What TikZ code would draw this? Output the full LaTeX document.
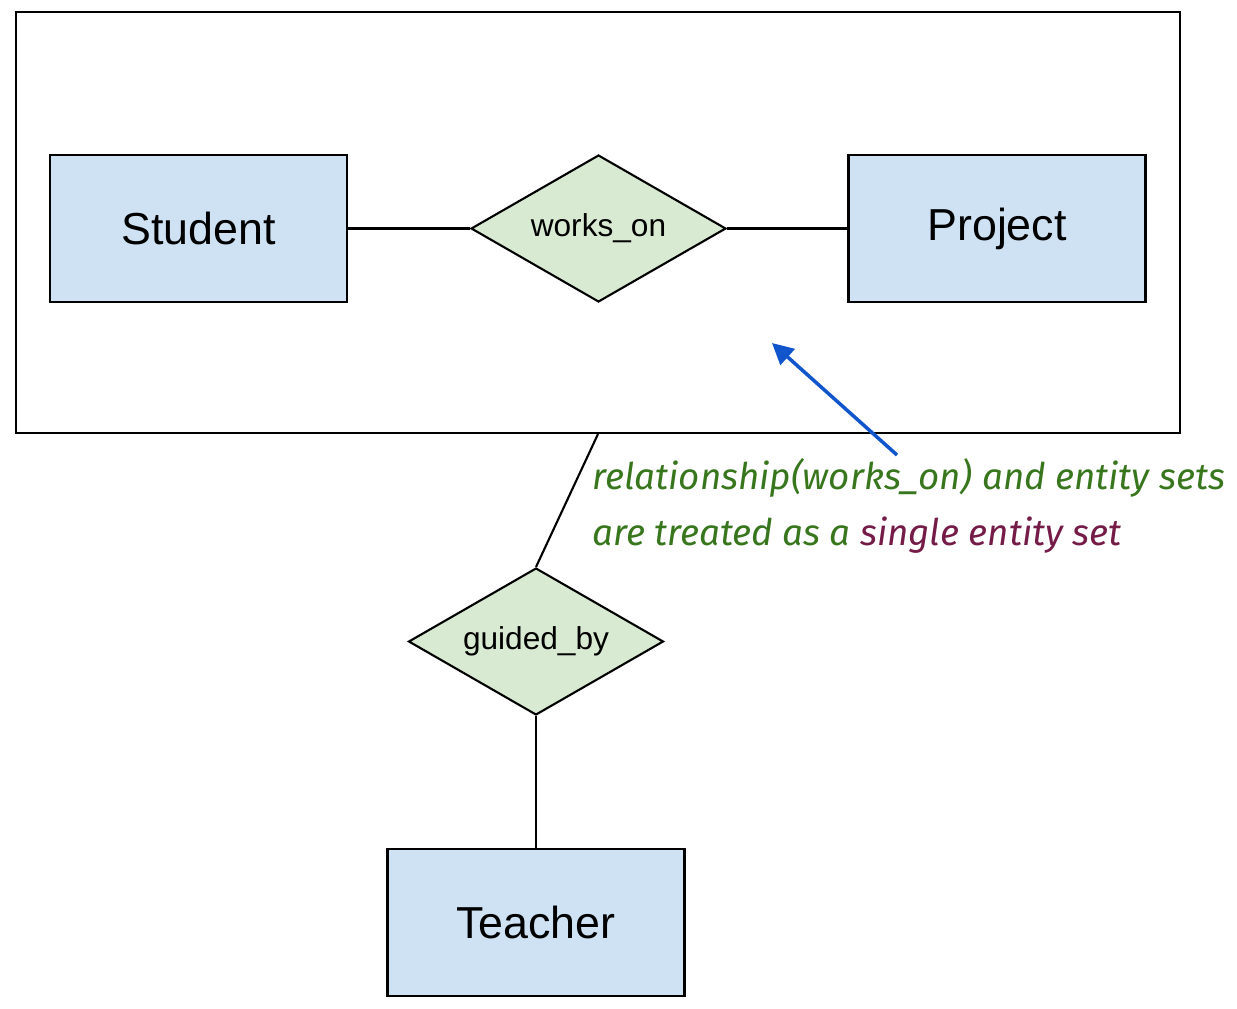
\documentclass[tikz,border=0pt]{standalone}
\usepackage{fontspec}
\setmainfont{Liberation Sans}
\newfontfamily\handfont{Fira Sans}
\usepackage{xcolor}
\usepackage{tikz}
\usetikzlibrary{shapes.geometric,arrows.meta}
\definecolor{entfill}{HTML}{CFE2F3}
\definecolor{relfill}{HTML}{D9EAD3}
\definecolor{notegreen}{HTML}{38761D}
\definecolor{noteplum}{HTML}{741B47}
\definecolor{arrowblue}{HTML}{1155CC}
\tikzset{
  entity/.style={draw=black, fill=entfill, line width=1.2pt, minimum width=5.94cm, minimum height=2.94cm, inner sep=0pt, font=\fontsize{25.5}{30}\selectfont},
  rel/.style={diamond, aspect=1.735, draw=black, fill=relfill, line width=1.2pt, minimum width=5.1cm, minimum height=2.94cm, inner sep=0pt, font=\fontsize{18}{22}\selectfont},
  aggbox/.style={draw=black, line width=1.2pt, minimum width=23.28cm, minimum height=8.42cm, inner sep=0pt},
  link/.style={draw=black, line width=1.2pt},
  pointer/.style={draw=arrowblue, line width=2pt, -{Triangle[length=12pt, width=12pt]}},
  note/.style={text=notegreen, font=\handfont\itshape\fontsize{20.9}{32}\selectfont, align=left, inner sep=0pt},
}

\begin{document}
\begin{tikzpicture}[x=0.02cm, y=-0.02cm]
  \useasboundingbox (0,0) rectangle (1237,1008);

  % aggregated relationship
  \node[aggbox] (agg) at (598,222.5) {};
  \node[entity] (student) at (198.5,228.5) {Student};
  \node[rel] (workson) at (598.5,228.5) {works\_on};
  \node[entity] (project) at (997,228.5) {Project};
  \draw[link] (student) -- (workson);
  \draw[link] (workson) -- (project);

  % outside
  \node[rel] (guidedby) at (536,641.5) {guided\_by};
  \node[entity] (teacher) at (536,922.5) {Teacher};
  \draw[link] (agg.south) -- (guidedby.north);
  \draw[link] (guidedby) -- (teacher);

  % note
  \node[note, anchor=north west] (remark) at (592,458)
    {relationship(works\_on) and entity sets\\
     are treated as a \textcolor{noteplum}{single entity set}};
  \coordinate (tail) at (897,455);
  \coordinate (aim) at (772,343);
  \draw[pointer] (tail) -- (aim);
\end{tikzpicture}
\end{document}
